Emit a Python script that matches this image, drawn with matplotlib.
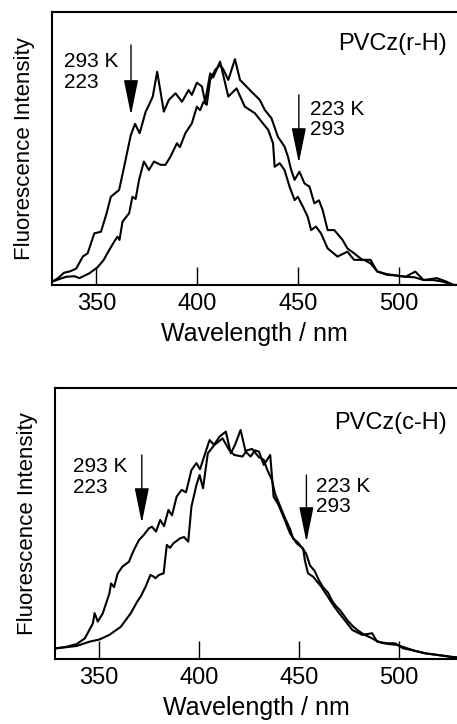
import matplotlib
matplotlib.use('Agg')
import matplotlib.pyplot as plt

plt.rcParams['font.family'] = ['Liberation Sans', 'DejaVu Sans']

# Datos: panel superior PVCz(r-H)
wl_r_293 = [328, 331, 334, 337, 340, 343.3, 345.7, 349.0, 352.3, 355, 357.2, 361.3, 363.8, 367.1, 369.2,
            371.5, 374.5, 376.1, 378, 380.2, 383.5, 386.0, 389.3, 392.5, 395.8, 397.4, 399.9, 402.4, 404.0,
            406.5, 408, 411.4, 415.5, 419.6, 423.7, 428.7, 432.0, 435.3, 437.7, 438.5, 441.0, 443.4, 445.9,
            448.4, 450.0, 452.5, 454.9, 456.6, 459.0, 461.5, 464.8, 469.7, 474.6, 477.9, 482.8, 486.1, 489.4,
            494, 499, 503.4, 508, 512.4, 517.3, 522, 527.2, 530]
int_r_293 = [0.012, 0.025, 0.045, 0.050, 0.060, 0.104, 0.116, 0.189, 0.195, 0.26, 0.323, 0.348, 0.433, 0.549,
             0.590, 0.556, 0.635, 0.659, 0.69, 0.781, 0.635, 0.678, 0.702, 0.671, 0.714, 0.696, 0.741, 0.727,
             0.671, 0.775, 0.76, 0.818, 0.690, 0.720, 0.653, 0.629, 0.598, 0.568, 0.519, 0.433, 0.446, 0.421,
             0.360, 0.311, 0.323, 0.287, 0.250, 0.201, 0.214, 0.189, 0.134, 0.104, 0.122, 0.092, 0.092, 0.079,
             0.050, 0.040, 0.035, 0.030, 0.028, 0.018, 0.018, 0.012, 0.0, 0.0]

wl_r_223 = [328, 331.8, 335.1, 339.2, 341.6, 346.6, 350.6, 353.5, 356.4, 358.9, 360.5, 361.5, 363.0, 366.3,
            367.9, 369.5, 371.2, 373.6, 376.1, 378.6, 381.9, 384.3, 386.8, 390.0, 391.5, 394.2, 397.4, 399.9,
            401.5, 403.2, 404.8, 406.5, 409.0, 411.4, 413, 415.5, 418.8, 421.3, 423.7, 427.0, 431.1, 433.6,
            436.9, 440.1, 443.4, 445.1, 446.7, 448.4, 450.8, 453.3, 455.8, 458.2, 460.5, 462.3, 464.8, 468.1,
            472.2, 474.6, 477.9, 482.0, 486.1, 489.4, 494.3, 498, 503.4, 508.3, 512.4, 519, 523.9, 527.2, 530]
int_r_223 = [0.012, 0.022, 0.030, 0.032, 0.025, 0.043, 0.065, 0.09, 0.128, 0.159, 0.177, 0.165, 0.232, 0.263,
             0.323, 0.315, 0.385, 0.452, 0.421, 0.452, 0.440, 0.440, 0.470, 0.519, 0.505, 0.556, 0.592, 0.653,
             0.640, 0.671, 0.660, 0.751, 0.788, 0.806, 0.79, 0.751, 0.827, 0.751, 0.733, 0.708, 0.678, 0.641,
             0.611, 0.543, 0.507, 0.470, 0.421, 0.385, 0.415, 0.372, 0.360, 0.299, 0.31, 0.275, 0.201, 0.201,
             0.165, 0.134, 0.116, 0.092, 0.092, 0.049, 0.037, 0.035, 0.030, 0.049, 0.018, 0.025, 0.012, 0.0, 0.0]

# Datos: panel inferior PVCz(c-H)
wl_c_293 = [328.1, 333.8, 338.8, 342.9, 346.9, 347.8, 349.4, 351.9, 355.2, 356.0, 357.5, 359.3, 361.7, 365.0,
            366.7, 368.3, 370.0, 372.4, 374.9, 376.5, 378.5, 380.6, 382.5, 384.7, 386.5, 388.8, 391.3, 393.5,
            396.2, 398.7, 400.5, 403.6, 405.3, 407.5, 410.2, 413.4, 415.9, 418, 420.8, 423.3, 425.8, 428, 430,
            432.4, 435.6, 437.3, 439.8, 442.2, 445.5, 448.8, 452.1, 452.9, 454.5, 457.0, 461.1, 464.4, 467.6,
            470.1, 473.4, 476.7, 478.3, 481.6, 486.6, 489.0, 494.0, 498.0, 502.1, 506.2, 512.8, 519.3, 525.9, 530]
int_c_293 = [0.039, 0.045, 0.055, 0.076, 0.131, 0.169, 0.138, 0.169, 0.242, 0.279, 0.265, 0.315, 0.341, 0.359,
             0.390, 0.415, 0.439, 0.458, 0.482, 0.488, 0.47, 0.513, 0.49, 0.550, 0.53, 0.599, 0.624, 0.615,
             0.697, 0.723, 0.70, 0.771, 0.808, 0.79, 0.820, 0.839, 0.759, 0.79, 0.845, 0.765, 0.747, 0.77, 0.765,
             0.716, 0.753, 0.599, 0.568, 0.525, 0.464, 0.427, 0.408, 0.365, 0.316, 0.304, 0.267, 0.230, 0.193,
             0.169, 0.138, 0.107, 0.101, 0.089, 0.095, 0.064, 0.058, 0.058, 0.039, 0.033, 0.021, 0.015, 0.008, 0.005]

wl_c_223 = [328.1, 333, 338.8, 345.3, 350.2, 355.2, 360.9, 365.9, 369.1, 370.8, 373.3, 375.7, 377.3, 378.2,
            380, 382.3, 383.9, 385.5, 387.2, 390.5, 392.5, 394.6, 396.2, 398.7, 400.3, 402.0, 404.4, 407.7,
            411.8, 415.1, 417.6, 421.7, 424, 426.6, 429.9, 432.4, 434, 436.5, 438, 440.5, 443, 445.5, 447,
            449.5, 451, 453.5, 455.5, 457.8, 460, 462, 464.5, 466.5, 468.5, 470.5, 472.5, 474.5, 477, 479.5,
            482.5, 485.5, 488, 491, 495, 499, 503, 508, 514, 520, 526, 530]
int_c_223 = [0.039, 0.043, 0.048, 0.064, 0.072, 0.089, 0.119, 0.169, 0.212, 0.230, 0.267, 0.310, 0.304, 0.298,
             0.31, 0.316, 0.421, 0.41, 0.427, 0.445, 0.45, 0.433, 0.562, 0.642, 0.679, 0.630, 0.759, 0.790,
             0.814, 0.771, 0.753, 0.747, 0.77, 0.775, 0.745, 0.735, 0.70, 0.66, 0.61, 0.565, 0.52, 0.48, 0.445,
             0.43, 0.415, 0.39, 0.345, 0.325, 0.290, 0.265, 0.245, 0.215, 0.195, 0.180, 0.160, 0.140, 0.12,
             0.105, 0.090, 0.080, 0.070, 0.060, 0.055, 0.052, 0.042, 0.030, 0.020, 0.014, 0.008, 0.005]

xticks = [350, 400, 450, 500]

fig = plt.figure(figsize=(4.57, 7.24), dpi=100)
ax1 = fig.add_axes([0.1138, 0.6064, 0.8862, 0.3771])
ax2 = fig.add_axes([0.1204, 0.0898, 0.8796, 0.3743])


def estilo(ax):
    ax.set_xlim(328, 529)
    ax.set_ylim(0, 1)
    ax.set_xticks(xticks)
    ax.set_yticks([])
    ax.tick_params(axis='x', direction='in', length=13, width=1, labelsize=17, pad=6)
    ax.spines['right'].set_visible(False)
    for s in ['left', 'top', 'bottom']:
        ax.spines[s].set_linewidth(1.5)
    ax.set_xlabel('Wavelength / nm', fontsize=18, labelpad=5)
    ax.set_ylabel('Fluorescence Intensity', fontsize=16, labelpad=12)


def flecha(ax, x, y0, y1):
    ax.annotate('', xy=(x, y1), xytext=(x, y0),
                arrowprops=dict(arrowstyle='-|>,head_length=2.2,head_width=0.45', mutation_scale=10,
                                lw=1, color='k', shrinkA=0, shrinkB=0))


# Panel superior
ax1.plot(wl_r_293, int_r_293, color='k', lw=1.5)
ax1.plot(wl_r_223, int_r_223, color='k', lw=1.5)
estilo(ax1)
flecha(ax1, 367.2, 0.879, 0.623)
flecha(ax1, 450.5, 0.696, 0.447)
ax1.text(334.2, 0.853, '293 K\n223', fontsize=15, va='top', ha='left', linespacing=1.1)
ax1.text(455.9, 0.678, '223 K\n293', fontsize=15, va='top', ha='left', linespacing=1.1)
ax1.text(0.975, 0.923, 'PVCz(r-H)', transform=ax1.transAxes, fontsize=17, va='top', ha='right')

# Panel inferior
ax2.plot(wl_c_293, int_c_293, color='k', lw=1.5)
ax2.plot(wl_c_223, int_c_223, color='k', lw=1.5)
estilo(ax2)
flecha(ax2, 371.4, 0.753, 0.502)
flecha(ax2, 453.7, 0.679, 0.432)
ax2.text(337, 0.745, '293 K\n223', fontsize=15, va='top', ha='left', linespacing=1.1)
ax2.text(458.6, 0.672, '223 K\n293', fontsize=15, va='top', ha='left', linespacing=1.1)
ax2.text(0.975, 0.911, 'PVCz(c-H)', transform=ax2.transAxes, fontsize=17, va='top', ha='right')

fig.savefig('out.png', dpi=100)
